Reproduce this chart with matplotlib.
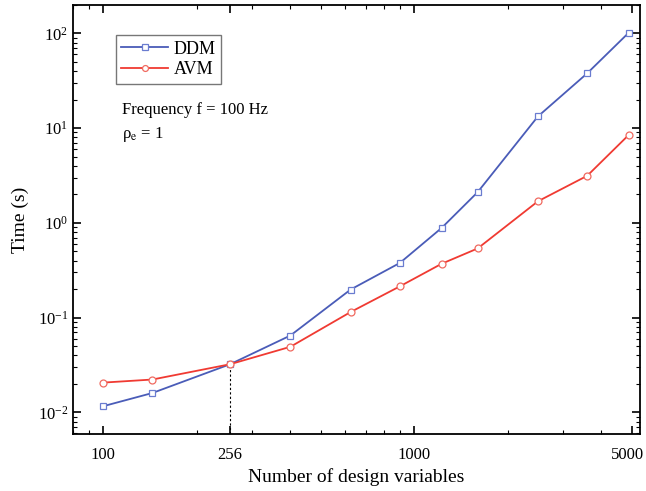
import matplotlib
matplotlib.use("Agg")
import matplotlib.pyplot as plt
import matplotlib.transforms as mtransforms
from matplotlib.ticker import FixedLocator, FixedFormatter, LogLocator, NullFormatter

plt.rcParams["font.family"] = ["Liberation Serif", "DejaVu Serif"]
plt.rcParams["mathtext.fontset"] = "stix"

n_vars = [100, 144, 256, 400, 625, 900, 1225, 1600, 2500, 3600, 4900]
ddm_time = [0.0116, 0.016, 0.0322, 0.0647, 0.198, 0.378, 0.883, 2.11, 13.3, 37.9, 102]
avm_time = [0.0206, 0.0222, 0.0322, 0.0492, 0.1146, 0.214, 0.37, 0.537, 1.69, 3.14, 8.5]
x_ticks = [100, 256, 1000, 5000]
x_ticklabels = ["100", "256", "1000", "5000"]

fig = plt.figure(figsize=(6.46, 4.91), dpi=100)
ax = fig.add_axes([0.113, 0.116, 0.878, 0.874])

ax.plot(n_vars, ddm_time, color="#4a5cb8", lw=1.3, marker="s", ms=5,
        mfc="white", mec="#6a7cd0", mew=0.9, label="DDM")
ax.plot(n_vars, avm_time, color="#f03a32", lw=1.3, marker="o", ms=5,
        mfc="white", mec="#f06a60", mew=0.9, label="AVM")

ax.set_xscale("log")
ax.set_yscale("log")
ax.set_xlim(80, 5330)
ax.set_ylim(0.0059, 200)

# dotted guide at the crossing point
ax.plot([256, 256], [0.0059, 0.0322], color="black", ls=(0, (2, 2)), lw=0.8, zorder=1)

ax.xaxis.set_major_locator(FixedLocator(x_ticks))
ax.xaxis.set_major_formatter(FixedFormatter(x_ticklabels))
ax.xaxis.set_minor_locator(LogLocator(base=10, subs=range(2, 10)))
ax.xaxis.set_minor_formatter(NullFormatter())
ax.yaxis.set_minor_locator(LogLocator(base=10, subs=range(2, 10), numticks=20))
ax.yaxis.set_minor_formatter(NullFormatter())

ax.tick_params(which="both", direction="in", top=True, right=True, labelsize=12)
ax.tick_params(which="major", length=6, width=1.2)
ax.tick_params(which="minor", length=3, width=0.8)
ax.tick_params(axis="x", pad=9)
for s in ax.spines.values():
    s.set_linewidth(1.3)

# keep the last tick label inside the figure
last = ax.get_xticklabels()[-1]
last.set_transform(last.get_transform() + mtransforms.ScaledTranslation(-4 / 100, 0, fig.dpi_scale_trans))

ax.set_xlabel("Number of design variables", fontsize=14, labelpad=4)
ax.set_ylabel("Time (s)", fontsize=14, labelpad=6)

leg = ax.legend(loc="upper left", bbox_to_anchor=(0.06, 0.95), fontsize=13,
                fancybox=False, edgecolor="#555555", handlelength=2.6,
                borderpad=0.3, labelspacing=0.2, handletextpad=0.3, markerscale=0.85)
leg.get_frame().set_linewidth(1.0)

ax.text(0.086, 0.745, "Frequency f = 100 Hz", transform=ax.transAxes, fontsize=12)
ax.text(0.086, 0.69, r"ρ$_\mathrm{e}$ = 1", transform=ax.transAxes, fontsize=12)

fig.savefig("out.png", dpi=100)
